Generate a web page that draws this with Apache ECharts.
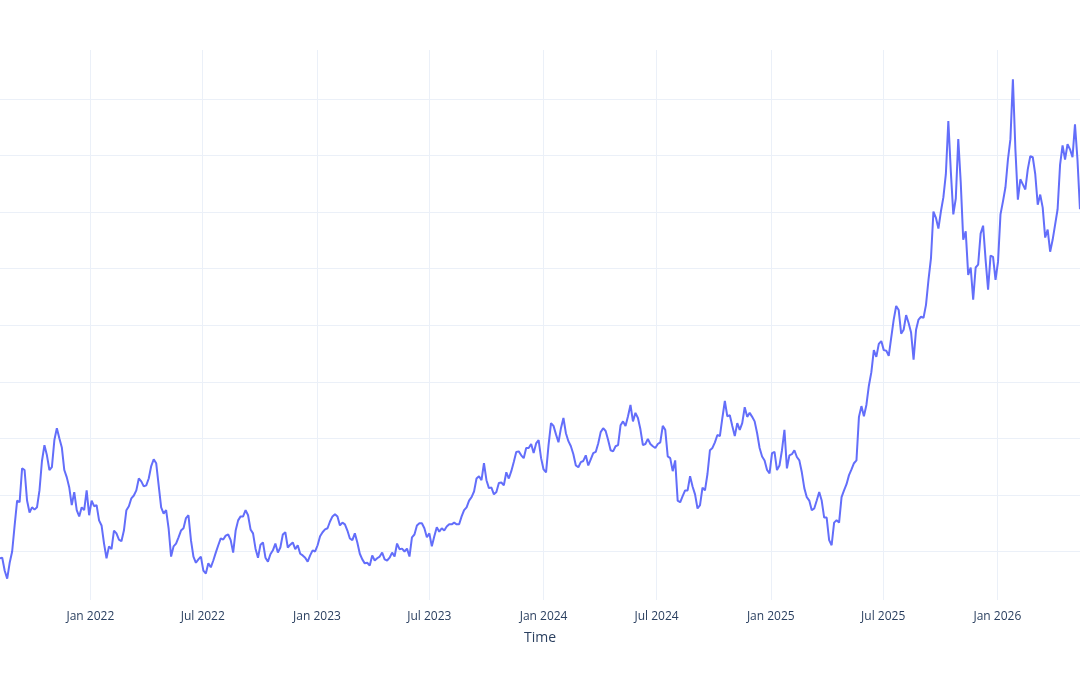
<!DOCTYPE html>
<html>
<head>
<meta charset="utf-8">
<script src="https://cdn.jsdelivr.net/npm/echarts@6/dist/echarts.min.js"></script>
<style>
  html, body { margin: 0; padding: 0; background: #fff; }
  #chart { width: 1080px; height: 675px; }
</style>
</head>
<body>
<div id="chart"></div>
<script>
// series sampled every 4 days, starting 2021-08-08
const startDate = Date.UTC(2021, 7, 8);
const stepDays = 4;
const values = [
  18.8, 18.9, 16.6, 15.2, 18.0, 20.0, 24.6, 29.0, 28.7, 34.7, 34.4, 29.0, 26.9, 27.8, 27.4, 27.8,
  30.8, 36.0, 38.8, 37.0, 34.4, 34.9, 39.7, 41.8, 40.0, 38.4, 34.4, 33.1, 31.3, 28.2, 30.5, 27.3,
  26.2, 27.8, 27.3, 30.8, 26.4, 29.0, 28.0, 28.2, 25.5, 24.6, 21.4, 18.8, 20.9, 20.4, 23.7, 23.2,
  22.1, 21.8, 23.7, 27.3, 28.0, 29.4, 29.9, 30.8, 32.9, 32.4, 31.5, 31.7, 32.9, 35.1, 36.3, 35.6,
  31.7, 27.8, 26.7, 27.3, 24.1, 19.1, 20.9, 21.4, 22.5, 23.7, 24.1, 25.9, 26.4,
  22.0, 19.1, 18.0, 18.6, 19.1, 16.6, 16.1, 17.9, 17.2, 18.4, 19.8, 21.1, 22.3, 22.1, 22.8, 23.0,
  22.0, 19.8, 23.7, 25.5, 26.2, 26.2, 27.3, 26.4, 23.9, 23.2, 20.5, 18.9, 21.2, 21.6, 18.9, 18.2,
  19.5, 20.2, 21.4, 19.8, 20.7, 23.0, 23.4, 20.7, 21.2, 21.6, 20.4, 21.1, 19.6, 19.3, 18.9, 18.2,
  19.3, 20.2, 20.0, 21.1, 22.7, 23.4, 23.9, 24.1, 25.3, 26.2, 26.6, 26.2, 24.6, 25.1, 24.8, 23.7,
  22.3, 22.0, 23.2, 21.6, 19.6, 18.6, 17.9, 18.0, 17.5, 19.3, 18.4, 18.8, 19.1, 19.8, 18.6, 18.4,
  18.9, 19.8, 19.1, 21.4, 20.4, 20.5, 20.0, 20.5, 19.1, 22.5, 23.0, 24.6, 25.0,
  25.0, 24.1, 22.5, 23.2, 20.9, 22.7, 24.3, 23.5, 24.1, 23.7, 24.4, 24.8, 24.8, 25.1, 24.8, 24.8,
  26.2, 27.3, 27.8, 29.0, 29.6, 30.6, 32.9, 33.3, 32.6, 35.6, 32.6, 31.2, 31.3, 30.1, 30.5, 32.1,
  32.2, 31.7, 34.0, 32.9, 34.2, 35.8, 37.6, 37.7, 37.0, 36.5, 38.3, 38.3, 39.0, 37.4, 39.1, 39.7,
  36.5, 34.5, 34.0, 38.8, 42.7, 42.2, 40.7, 39.3, 41.8, 43.6, 40.9, 39.5, 38.6, 37.2, 35.2, 34.9,
  35.8, 36.0, 37.0, 35.2, 36.3, 37.4, 37.6, 39.1, 41.1, 41.8, 41.3, 39.7, 37.9, 37.7, 38.6, 38.8,
  42.3, 43.0, 42.2, 43.9, 45.9,
  43.0, 44.5, 43.6, 41.6, 38.8, 39.0, 39.9, 39.0, 38.6, 38.3, 39.0, 39.3, 42.2, 41.5, 36.8, 36.5,
  34.2, 36.1, 29.0, 28.7, 29.8, 30.8, 30.8, 33.3, 31.5, 30.1, 27.6, 28.2, 31.3, 30.8, 33.7, 37.9,
  38.3, 39.3, 40.6, 40.4, 43.6, 46.6, 43.9, 44.1, 42.2, 40.4, 42.7, 41.5, 42.7, 45.5, 43.8, 44.5,
  43.8, 43.0, 40.9, 38.3, 36.8, 36.1, 34.4, 33.8, 37.4, 37.6, 34.4, 35.2, 37.9, 41.5, 34.7, 37.0,
  37.2, 37.9, 36.7, 36.1, 34.0, 31.2, 29.6, 29.0, 27.3, 27.6, 29.0, 30.5, 29.0, 26.0, 26.0, 22.0,
  21.1, 25.1, 25.5, 25.1, 29.6, 30.8, 31.9, 33.5, 34.5, 35.6, 36.1, 43.8,
  45.7, 43.9, 45.9, 49.3, 51.7, 55.6, 54.4, 56.7, 57.2, 55.6, 55.5, 54.6, 57.8, 61.0, 63.4, 62.7,
  58.5, 59.2, 61.8, 60.4, 58.7, 53.9, 59.2, 61.0, 61.5, 61.3, 63.6, 68.0, 71.8, 80.1, 79.0, 77.1,
  80.1, 82.6, 86.7, 96.1, 87.2, 79.6, 82.4, 92.9, 85.2, 75.1, 76.6, 68.9, 70.2, 64.5, 70.2, 70.7,
  76.2, 77.6, 71.6, 66.3, 72.3, 72.1, 68.0, 71.2, 79.6, 81.9, 84.4, 89.3, 92.9, 103.5, 91.1, 82.2,
  85.8, 84.9, 84.0, 87.6, 89.9, 89.7, 86.7, 81.3, 83.1, 80.8, 75.5, 76.9, 73.0, 75.1, 77.8, 80.5,
  88.4, 91.8, 89.3, 92.0, 91.1, 89.7, 95.5, 89.3, 80.5
];
const xTicks = [
  Date.UTC(2022, 0, 1), Date.UTC(2022, 6, 1), Date.UTC(2023, 0, 1), Date.UTC(2023, 6, 1),
  Date.UTC(2024, 0, 1), Date.UTC(2024, 6, 1), Date.UTC(2025, 0, 1), Date.UTC(2025, 6, 1),
  Date.UTC(2026, 0, 1)
];
const yTicks = [20, 30, 40, 50, 60, 70, 80, 90, 100];
const monthNames = ['Jan', 'Feb', 'Mar', 'Apr', 'May', 'Jun', 'Jul', 'Aug', 'Sep', 'Oct', 'Nov', 'Dec'];

const DAY = 86400000;
const seriesData = values.map((v, i) => [startDate + i * stepDays * DAY, v]);

const chart = echarts.init(document.getElementById('chart'));

const option = {
  animation: false,
  backgroundColor: '#fff',
  textStyle: { fontFamily: 'Open Sans' },
  grid: { left: 0, right: 0, top: 50, bottom: 75, containLabel: false },
  xAxis: {
    // timestamps on a value axis so the tick dates can be given exactly
    type: 'value',
    min: Date.UTC(2021, 7, 8, 10),
    max: Date.UTC(2026, 4, 14, 2),
    name: 'Time',
    nameLocation: 'middle',
    nameGap: 31,
    nameTextStyle: { color: '#2a3f5f', fontSize: 14, fontFamily: 'Open Sans' },
    axisLine: { show: false },
    axisTick: { show: false, customValues: xTicks },
    axisLabel: {
      customValues: xTicks,
      margin: 11,
      color: '#2a3f5f',
      fontSize: 12,
      fontFamily: 'Open Sans',
      formatter: function (v) {
        const d = new Date(v);
        return monthNames[d.getUTCMonth()] + ' ' + d.getUTCFullYear();
      }
    },
    splitLine: { show: true, lineStyle: { color: '#EBF0F8', width: 1 } }
  },
  yAxis: {
    type: 'value',
    min: 11.42,
    max: 108.66,
    axisLine: { show: false },
    axisTick: { show: false, customValues: yTicks },
    axisLabel: { show: false },
    splitLine: { show: true, lineStyle: { color: '#EBF0F8', width: 1 } }
  },
  series: [
    {
      type: 'line',
      data: seriesData,
      showSymbol: false,
      symbol: 'none',
      lineStyle: { color: '#636efa', width: 2 },
      itemStyle: { color: '#636efa' }
    }
  ]
};

chart.setOption(option);
</script>
</body>
</html>
